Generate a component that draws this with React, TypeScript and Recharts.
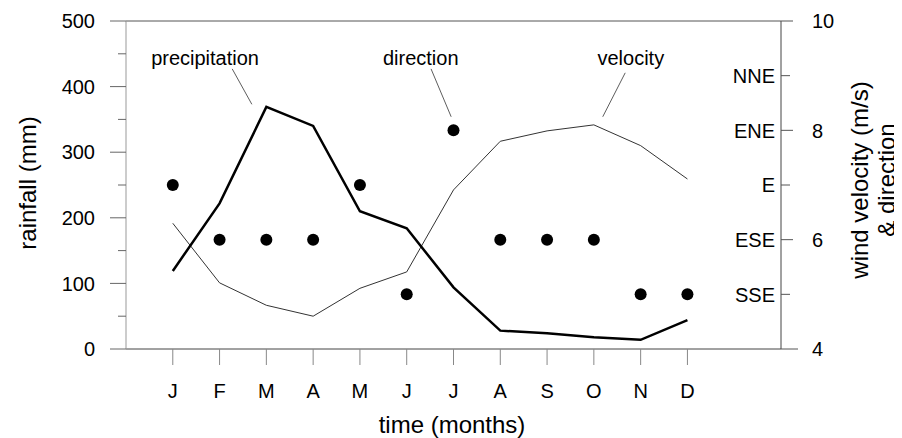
import React from 'react';
import { ComposedChart, Line, Scatter, XAxis, YAxis, ReferenceLine, ReferenceDot } from 'recharts';

const monthLabels = ['J', 'F', 'M', 'A', 'M', 'J', 'J', 'A', 'S', 'O', 'N', 'D'];
const monthNumbers = [1, 2, 3, 4, 5, 6, 7, 8, 9, 10, 11, 12];
const rainfall = [119, 222, 369, 340, 210, 184, 94, 28, 24, 18, 14, 44];
const velocity = [6.3, 5.21, 4.8, 4.6, 5.11, 5.41, 6.91, 7.8, 7.99, 8.1, 7.72, 7.11];
const direction = [7, 6, 6, 6, 7, 5, 8, 6, 6, 6, 5, 5];
const rainTicks = [0, 50, 100, 150, 200, 250, 300, 350, 400, 450, 500];
const rightTicks = [4, 5, 6, 7, 8, 9, 10];
const velocityTickLabels = [4, 6, 8, 10];
const directionNames: Record<number, string> = { 5: 'SSE', 6: 'ESE', 7: 'E', 8: 'ENE', 9: 'NNE' };

const data = monthNumbers.map((m, i) => ({ m, rain: rainfall[i], vel: velocity[i], dir: direction[i] }));

const FONT = "'Liberation Sans', Arial, sans-serif";
const TICK_FS = 20;
const NOTE_FS = 20;
const TITLE_FS = 24;

const LeftTick = (props: any) => {
  const { x, y, payload } = props;
  const major = payload.value % 100 === 0;
  return (
    <g>
      <line x1={x - (major ? 16 : 8)} x2={x} y1={y} y2={y} stroke="#666" strokeWidth={1} />
      {major && (
        <text x={x - 31} y={y} dy="0.36em" textAnchor="end" fontSize={TICK_FS} fill="#000" fontFamily={FONT}>
          {payload.value}
        </text>
      )}
    </g>
  );
};

const RightTick = (props: any) => {
  const { x, y, payload } = props;
  const v = payload.value;
  const numeric = velocityTickLabels.includes(v);
  const len = v === 4 ? 17 : numeric ? 12 : 9;
  return (
    <g>
      <line x1={x} x2={x + len} y1={y} y2={y} stroke="#555" strokeWidth={1} />
      {numeric && (
        <text x={x + 31} y={y} dy="0.36em" textAnchor="start" fontSize={TICK_FS} fill="#000" fontFamily={FONT}>
          {v}
        </text>
      )}
      {directionNames[v] && (
        <text x={x - 6} y={y} dy="0.36em" textAnchor="end" fontSize={TICK_FS} fill="#000" fontFamily={FONT}>
          {directionNames[v]}
        </text>
      )}
    </g>
  );
};

const BottomTick = (props: any) => {
  const { x, y, payload } = props;
  return (
    <g>
      <line x1={x} x2={x} y1={y} y2={y + 16} stroke="#888" strokeWidth={1} />
      <text x={x} y={y + 49} textAnchor="middle" fontSize={TICK_FS} fill="#000" fontFamily={FONT}>
        {monthLabels[payload.value - 1]}
      </text>
    </g>
  );
};

const dotShape = (p: any) => <circle cx={p.cx} cy={p.cy} r={6} fill="#000" />;

export default function App() {
  return (
    <div style={{ fontFamily: FONT }}>
      <ComposedChart width={894} height={430} data={data} margin={{ top: 13, right: 0, bottom: 0, left: 0 }}>
        <XAxis
          xAxisId="x"
          type="number"
          dataKey="m"
          domain={[0, 14]}
          ticks={monthNumbers}
          interval={0}
          tickSize={0}
          tickMargin={0}
          tickLine={false}
          height={89}
          axisLine={{ stroke: '#444', strokeWidth: 1 }}
          tick={<BottomTick />}
          label={{
            content: () => (
              <text x={444} y={425} textAnchor="middle" fontSize={TITLE_FS} fill="#000" fontFamily={FONT}>
                time (months)
              </text>
            ),
          }}
        />
        <YAxis
          yAxisId="rain"
          orientation="left"
          domain={[0, 500]}
          ticks={rainTicks}
          interval={0}
          width={118}
          tickSize={0}
          tickMargin={0}
          tickLine={false}
          axisLine={{ stroke: '#999', strokeWidth: 1 }}
          tick={<LeftTick />}
          label={{
            content: () => (
              <text
                x={19}
                y={175}
                transform="rotate(-90 19 175)"
                textAnchor="middle"
                dominantBaseline="central"
                fontSize={TITLE_FS}
                fill="#000"
                fontFamily={FONT}
              >
                rainfall (mm)
              </text>
            ),
          }}
        />
        <YAxis
          yAxisId="vel"
          orientation="right"
          domain={[4, 10]}
          ticks={rightTicks}
          interval={0}
          width={121}
          tickSize={0}
          tickMargin={0}
          tickLine={false}
          axisLine={{ stroke: '#444', strokeWidth: 1 }}
          tick={<RightTick />}
          label={{
            content: () => (
              <g>
                <text
                  x={851}
                  y={172}
                  transform="rotate(-90 851 172)"
                  textAnchor="middle"
                  dominantBaseline="central"
                  fontSize={TITLE_FS}
                  fill="#000"
                  fontFamily={FONT}
                >
                  wind velocity (m/s)
                </text>
                <text
                  x={878}
                  y={172}
                  transform="rotate(-90 878 172)"
                  textAnchor="middle"
                  dominantBaseline="central"
                  fontSize={TITLE_FS}
                  fill="#000"
                  fontFamily={FONT}
                >
                  &amp; direction
                </text>
              </g>
            ),
          }}
        />
        <ReferenceLine xAxisId="x" yAxisId="rain" y={500} stroke="#555" strokeWidth={1} />
        <Line
          xAxisId="x"
          yAxisId="vel"
          type="linear"
          dataKey="vel"
          stroke="#333"
          strokeWidth={1}
          dot={false}
          activeDot={false}
          isAnimationActive={false}
        />
        <Line
          xAxisId="x"
          yAxisId="rain"
          type="linear"
          dataKey="rain"
          stroke="#000"
          strokeWidth={2.5}
          dot={false}
          activeDot={false}
          isAnimationActive={false}
        />
        <Scatter xAxisId="x" yAxisId="vel" dataKey="dir" shape={dotShape} isAnimationActive={false} />
        <ReferenceLine xAxisId="x" yAxisId="rain" segment={[{ x: 2.27, y: 427 }, { x: 2.69, y: 373 }]} stroke="#333" strokeWidth={0.8} />
        <ReferenceLine xAxisId="x" yAxisId="rain" segment={[{ x: 6.52, y: 427 }, { x: 6.95, y: 354 }]} stroke="#333" strokeWidth={0.8} />
        <ReferenceLine xAxisId="x" yAxisId="rain" segment={[{ x: 10.67, y: 421 }, { x: 10.19, y: 354 }]} stroke="#333" strokeWidth={0.8} />
        <ReferenceDot xAxisId="x" yAxisId="rain" x={1.69} y={443} r={0} fill="none" stroke="none"
          label={{ value: 'precipitation', position: 'center', fontSize: NOTE_FS, fill: '#000', fontFamily: FONT }} />
        <ReferenceDot xAxisId="x" yAxisId="rain" x={6.3} y={443} r={0} fill="none" stroke="none"
          label={{ value: 'direction', position: 'center', fontSize: NOTE_FS, fill: '#000', fontFamily: FONT }} />
        <ReferenceDot xAxisId="x" yAxisId="rain" x={10.79} y={443} r={0} fill="none" stroke="none"
          label={{ value: 'velocity', position: 'center', fontSize: NOTE_FS, fill: '#000', fontFamily: FONT }} />
      </ComposedChart>
    </div>
  );
}
